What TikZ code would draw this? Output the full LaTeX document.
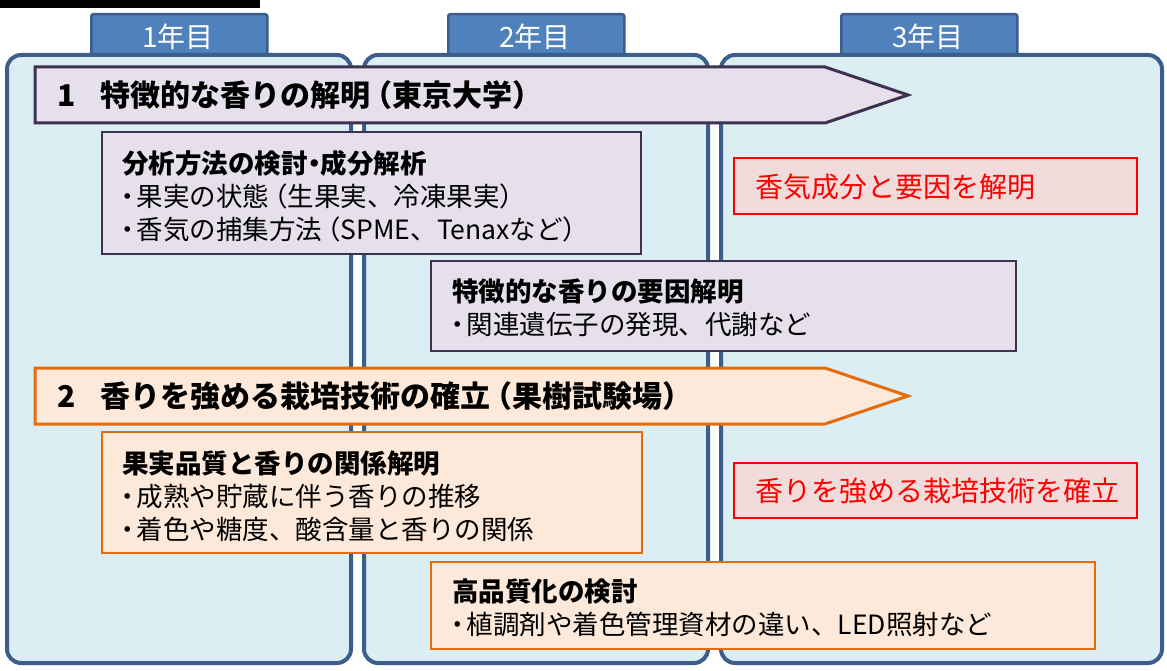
\documentclass[tikz,border=0pt]{standalone}
\usepackage{fontspec}
\setmainfont{Noto Sans CJK JP}
\usetikzlibrary{calc}
\definecolor{panelfill}{HTML}{DBEEF4}
\definecolor{paneldraw}{HTML}{3B5E8C}
\definecolor{tabfill}{HTML}{4F81BD}
\definecolor{purfill}{HTML}{E5E0EC}
\definecolor{purdraw}{HTML}{3F3151}
\definecolor{orfill}{HTML}{FDE9D9}
\definecolor{ordraw}{HTML}{E46C0A}
\definecolor{redfill}{HTML}{F2DCDB}
\definecolor{reddraw}{HTML}{FF0000}
\newcommand\dt{\kern-0.3em・\kern-0.15em}
\newcommand\middot{\kern-0.25em・\kern-0.25em}
\newcommand\lpar{\kern-0.3em（}
\newcommand\rpar{）\kern-0.3em}
\tikzset{
  panel/.style={draw=paneldraw, fill=panelfill, line width=4, rounded corners=14, anchor=north west, inner sep=0},
  yeartab/.style={draw=paneldraw, fill=tabfill, line width=2.5, rounded corners=2, anchor=north west, inner sep=0, minimum width=176, minimum height=42},
  tabtext/.style={text=white, inner sep=0, font=\fontsize{28}{28}\selectfont},
  purarrow/.style={draw=purdraw, fill=purfill, line width=3, line join=miter},
  orarrow/.style={draw=ordraw, fill=orfill, line width=3, line join=miter},
  arrowtext/.style={anchor=west, inner sep=0, font=\bfseries\fontsize{30}{30}\selectfont},
  pbox/.style={draw=purdraw, fill=purfill, line width=2, anchor=north west, inner sep=0},
  obox/.style={draw=ordraw, fill=orfill, line width=2, anchor=north west, inner sep=0},
  rbox/.style={draw=reddraw, fill=redfill, line width=2, anchor=north west, inner sep=0},
  boxtext/.style={anchor=west, inner sep=0, align=left, font=\fontsize{26.5}{33}\selectfont},
  redtext/.style={anchor=west, inner sep=0, text=reddraw, font=\fontsize{28}{28}\selectfont},
}
\begin{document}
\begin{tikzpicture}[x=1pt, y=-1pt]
\useasboundingbox (0,0) rectangle (1167,671);
\fill (0,0) rectangle (260,8);
% year tabs
\node[yeartab] (tab1) at (90,13) {};
\node[yeartab] (tab2) at (447,13) {};
\node[yeartab] (tab3) at (840,13) {};
% panels
\node[panel, minimum width=344, minimum height=608] (P1) at (5,53) {};
\node[panel, minimum width=344, minimum height=608] (P2) at (362,53) {};
\node[panel, minimum width=441, minimum height=608] (P3) at (719,53) {};
\node[tabtext] (y1) at (178,37) {1年目};
\node[tabtext] (y2) at (535,37) {2年目};
\node[tabtext] (y3) at (928,37) {3年目};
% arrows
\draw[purarrow] (35,67) -- (825,67) -- (908,95) -- (825,123) -- (35,123) -- cycle;
\node[arrowtext] (t1) at (57,95) {1\hspace{0.85em}特徴的な香りの解明\lpar 東京大学\rpar};
\draw[orarrow] (35,368) -- (825,368) -- (908,396) -- (825,424) -- (35,424) -- cycle;
\node[arrowtext] (t2) at (57,396) {2\hspace{0.85em}香りを強める栽培技術の確立\lpar 果樹試験場\rpar};
% boxes
\node[pbox, minimum width=539, minimum height=122] (A) at (101,131) {};
\node[boxtext] (At) at (122,196) {\textbf{分析方法の検討\middot 成分解析}\\\dt 果実の状態\lpar 生果実、冷凍果実\rpar\\\dt 香気の捕集方法\lpar SPME、Tenaxなど\rpar};
\node[pbox, minimum width=585, minimum height=90] (B) at (430,260) {};
\node[boxtext] (Bt) at (452,308) {\textbf{特徴的な香りの要因解明}\\\dt 関連遺伝子の発現、代謝など};
\node[obox, minimum width=540, minimum height=121] (C) at (101,431) {};
\node[boxtext] (Ct) at (122,496) {\textbf{果実品質と香りの関係解明}\\\dt 成熟や貯蔵に伴う香りの推移\\\dt 着色や糖度、酸含量と香りの関係};
\node[obox, minimum width=664, minimum height=87] (D) at (430,561) {};
\node[boxtext] (Dt) at (452,608) {\textbf{高品質化の検討}\\\dt 植調剤や着色管理資材の違い、LED照射など};
% result boxes
\node[rbox, minimum width=403, minimum height=56] (R1) at (733,157) {};
\node[redtext] (R1t) at (755,187) {香気成分と要因を解明};
\node[rbox, minimum width=403, minimum height=55] (R2) at (733,462) {};
\node[redtext] (R2t) at (755,491) {香りを強める栽培技術を確立};
\end{tikzpicture}
\end{document}
